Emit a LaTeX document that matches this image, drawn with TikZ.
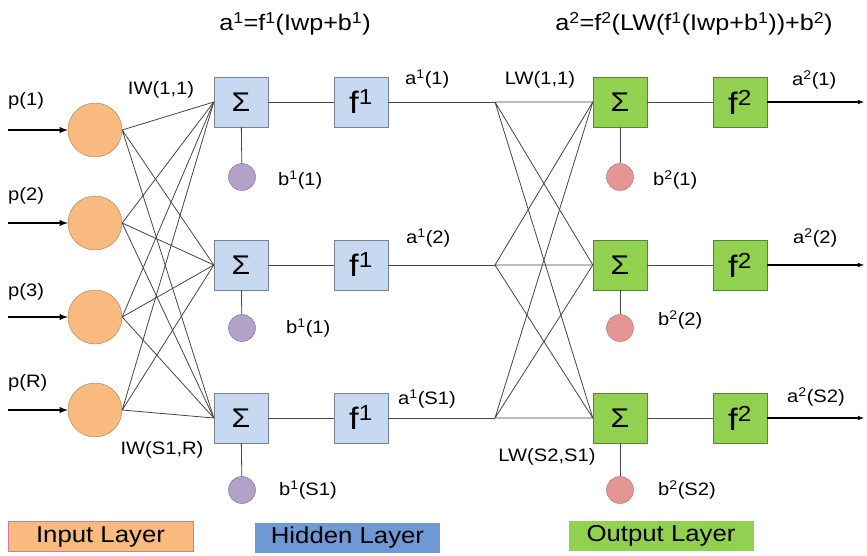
\documentclass[tikz,border=0pt]{standalone}
\usepackage{fontspec}
\setmainfont{Liberation Sans}[FakeStretch=1.12]
\definecolor{inorange}{RGB}{249,186,128}
\definecolor{inedge}{RGB}{170,120,80}
\definecolor{hblue}{RGB}{199,217,240}
\definecolor{hedge}{RGB}{120,130,150}
\definecolor{ogreen}{RGB}{146,208,80}
\definecolor{oedge}{RGB}{85,135,50}
\definecolor{bpurple}{RGB}{178,162,200}
\definecolor{bpedge}{RGB}{120,105,140}
\definecolor{bpink}{RGB}{228,150,148}
\definecolor{bkedge}{RGB}{180,100,100}
\definecolor{legblue}{RGB}{112,152,212}
\definecolor{legedge}{RGB}{205,125,140}
\definecolor{wiregray}{RGB}{70,70,70}
\begin{document}
\begin{tikzpicture}[x=1pt,y=-1pt,
    neuron/.style={circle,draw=inedge,fill=inorange,minimum size=54pt,inner sep=0pt},
    hbox/.style={rectangle,draw=hedge,fill=hblue,minimum width=54pt,minimum height=50pt,inner sep=0pt},
    obox/.style={rectangle,draw=oedge,fill=ogreen,minimum width=54pt,minimum height=50pt,inner sep=0pt},
    hbias/.style={circle,draw=bpedge,fill=bpurple,minimum size=27pt,inner sep=0pt},
    obias/.style={circle,draw=bkedge,fill=bpink,minimum size=27pt,inner sep=0pt},
    sumtxt/.style={font=\fontsize{27}{27}\selectfont},
    ftxt/.style={font=\fontsize{31}{31}\selectfont},
    lbl/.style={font=\fontsize{18}{20}\selectfont,inner sep=0pt},
    ttl/.style={font=\fontsize{22.5}{24}\selectfont,inner sep=0pt},
    legend/.style={rectangle,minimum width=185pt,minimum height=30pt,inner sep=0pt,font=\fontsize{23}{25}\selectfont},
    wire/.style={wiregray,line width=0.8pt},
    inarrow/.style={black,line width=1.8pt,-latex},
    outarrow/.style={black,line width=1.1pt,-latex}]
  \fill[white] (0,0) rectangle (867,555);
  \useasboundingbox (0,0) rectangle (867,555);
  % titles
  \node[ttl] (title1) at (295,24) {a\textsuperscript{1}=f\textsuperscript{1}(Iwp+b\textsuperscript{1})};
  \node[ttl] (title2) at (694,24) {a\textsuperscript{2}=f\textsuperscript{2}(LW(f\textsuperscript{1}(Iwp+b\textsuperscript{1}))+b\textsuperscript{2})};
  % input layer
  \node[neuron] (in1) at (95,130) {};
  \node[neuron] (in2) at (95,223) {};
  \node[neuron] (in3) at (95,317) {};
  \node[neuron] (in4) at (95,410) {};
  \coordinate (s1) at (8,130);
  \coordinate (s2) at (8,223);
  \coordinate (s3) at (8,317);
  \coordinate (s4) at (8,410);
  \draw[inarrow] (s1) -- (in1);
  \draw[inarrow] (s2) -- (in2);
  \draw[inarrow] (s3) -- (in3);
  \draw[inarrow] (s4) -- (in4);
  \node[lbl,anchor=west] (p1) at (8,101) {p(1)};
  \node[lbl,anchor=west] (p2) at (8,196) {p(2)};
  \node[lbl,anchor=west] (p3) at (8,292) {p(3)};
  \node[lbl,anchor=west] (pR) at (8,383) {p(R)};
  % hidden layer
  \node[hbox,sumtxt] (hs1) at (241,102) {Σ};
  \node[hbox,sumtxt] (hs2) at (241,265) {Σ};
  \node[hbox,sumtxt] (hs3) at (241,418) {Σ};
  \node[hbox,ftxt] (hf1) at (361,102) {f\textsuperscript{1}};
  \node[hbox,ftxt] (hf2) at (361,265) {f\textsuperscript{1}};
  \node[hbox,ftxt] (hf3) at (361,418) {f\textsuperscript{1}};
  \node[hbias] (hb1) at (242,177) {};
  \node[hbias] (hb2) at (242,328) {};
  \node[hbias] (hb3) at (242,490) {};
  \draw[wire] (in1.east) -- (hs1.west) (in1.east) -- (hs2.west) (in1.east) -- (hs3.west);
  \draw[wire] (in2.east) -- (hs1.west) (in2.east) -- (hs2.west) (in2.east) -- (hs3.west);
  \draw[wire] (in3.east) -- (hs1.west) (in3.east) -- (hs2.west) (in3.east) -- (hs3.west);
  \draw[wire] (in4.east) -- (hs1.west) (in4.east) -- (hs2.west) (in4.east) -- (hs3.west);
  \draw[wire] (hs1) -- (hb1);
  \draw[wire] (hs2) -- (hb2);
  \draw[wire] (hs3) -- (hb3);
  \draw[wire] (hs1) -- (hf1);
  \draw[wire] (hs2) -- (hf2);
  \draw[wire] (hs3) -- (hf3);
  \node[lbl] (iw11) at (161,90) {IW(1,1)};
  \node[lbl] (iwSR) at (162,450) {IW(S1,R)};
  \node[lbl,anchor=west] (bh1) at (278,180) {b\textsuperscript{1}(1)};
  \node[lbl,anchor=west] (bh2) at (286,328) {b\textsuperscript{1}(1)};
  \node[lbl,anchor=west] (bh3) at (279,490) {b\textsuperscript{1}(S1)};
  \node[lbl,anchor=west] (ah1) at (405,79) {a\textsuperscript{1}(1)};
  \node[lbl,anchor=west] (ah2) at (406,238) {a\textsuperscript{1}(2)};
  \node[lbl,anchor=west] (ah3) at (398,399) {a\textsuperscript{1}(S1)};
  % output layer
  \coordinate (j1) at (495,102);
  \coordinate (j2) at (495,265);
  \coordinate (j3) at (495,418);
  \node[obox,sumtxt] (os1) at (620,102) {Σ};
  \node[obox,sumtxt] (os2) at (620,265) {Σ};
  \node[obox,sumtxt] (os3) at (620,418) {Σ};
  \node[obox,ftxt] (of1) at (740,102) {f\textsuperscript{2}};
  \node[obox,ftxt] (of2) at (740,265) {f\textsuperscript{2}};
  \node[obox,ftxt] (of3) at (740,418) {f\textsuperscript{2}};
  \node[obias] (ob1) at (620,177) {};
  \node[obias] (ob2) at (620,328) {};
  \node[obias] (ob3) at (620,490) {};
  \draw[wire] (hf1) -- (j1);
  \draw[wire] (hf2) -- (j2);
  \draw[wire] (hf3) -- (j3);
  \draw[wire] (j1) -- (os1.west) (j1) -- (os2.west) (j1) -- (os3.west);
  \draw[wire] (j2) -- (os1.west) (j2) -- (os2.west) (j2) -- (os3.west);
  \draw[wire] (j3) -- (os1.west) (j3) -- (os2.west) (j3) -- (os3.west);
  \draw[wire] (os1) -- (ob1);
  \draw[wire] (os2) -- (ob2);
  \draw[wire] (os3) -- (ob3);
  \draw[wire] (os1) -- (of1);
  \draw[wire] (os2) -- (of2);
  \draw[wire] (os3) -- (of3);
  \coordinate (e1) at (864,102);
  \coordinate (e2) at (864,265);
  \coordinate (e3) at (864,418);
  \draw[outarrow] (of1) -- (e1);
  \draw[outarrow] (of2) -- (e2);
  \draw[outarrow] (of3) -- (e3);
  \node[lbl] (lw11) at (540,80) {LW(1,1)};
  \node[lbl] (lwSS) at (547,457) {LW(S2,S1)};
  \node[lbl,anchor=west] (bo1) at (653,180) {b\textsuperscript{2}(1)};
  \node[lbl,anchor=west] (bo2) at (658,320) {b\textsuperscript{2}(2)};
  \node[lbl,anchor=west] (bo3) at (658,490) {b\textsuperscript{2}(S2)};
  \node[lbl,anchor=west] (ao1) at (792,80) {a\textsuperscript{2}(1)};
  \node[lbl,anchor=west] (ao2) at (793,238) {a\textsuperscript{2}(2)};
  \node[lbl,anchor=west] (ao3) at (787,397) {a\textsuperscript{2}(S2)};
  % legend
  \node[legend,draw=legedge,fill=inorange] (legin) at (100.5,536.5) {Input Layer};
  \node[legend,fill=legblue] (leghid) at (347.5,537.5) {Hidden Layer};
  \node[legend,fill=ogreen] (legout) at (661,535.5) {Output Layer};
\end{tikzpicture}
\end{document}
